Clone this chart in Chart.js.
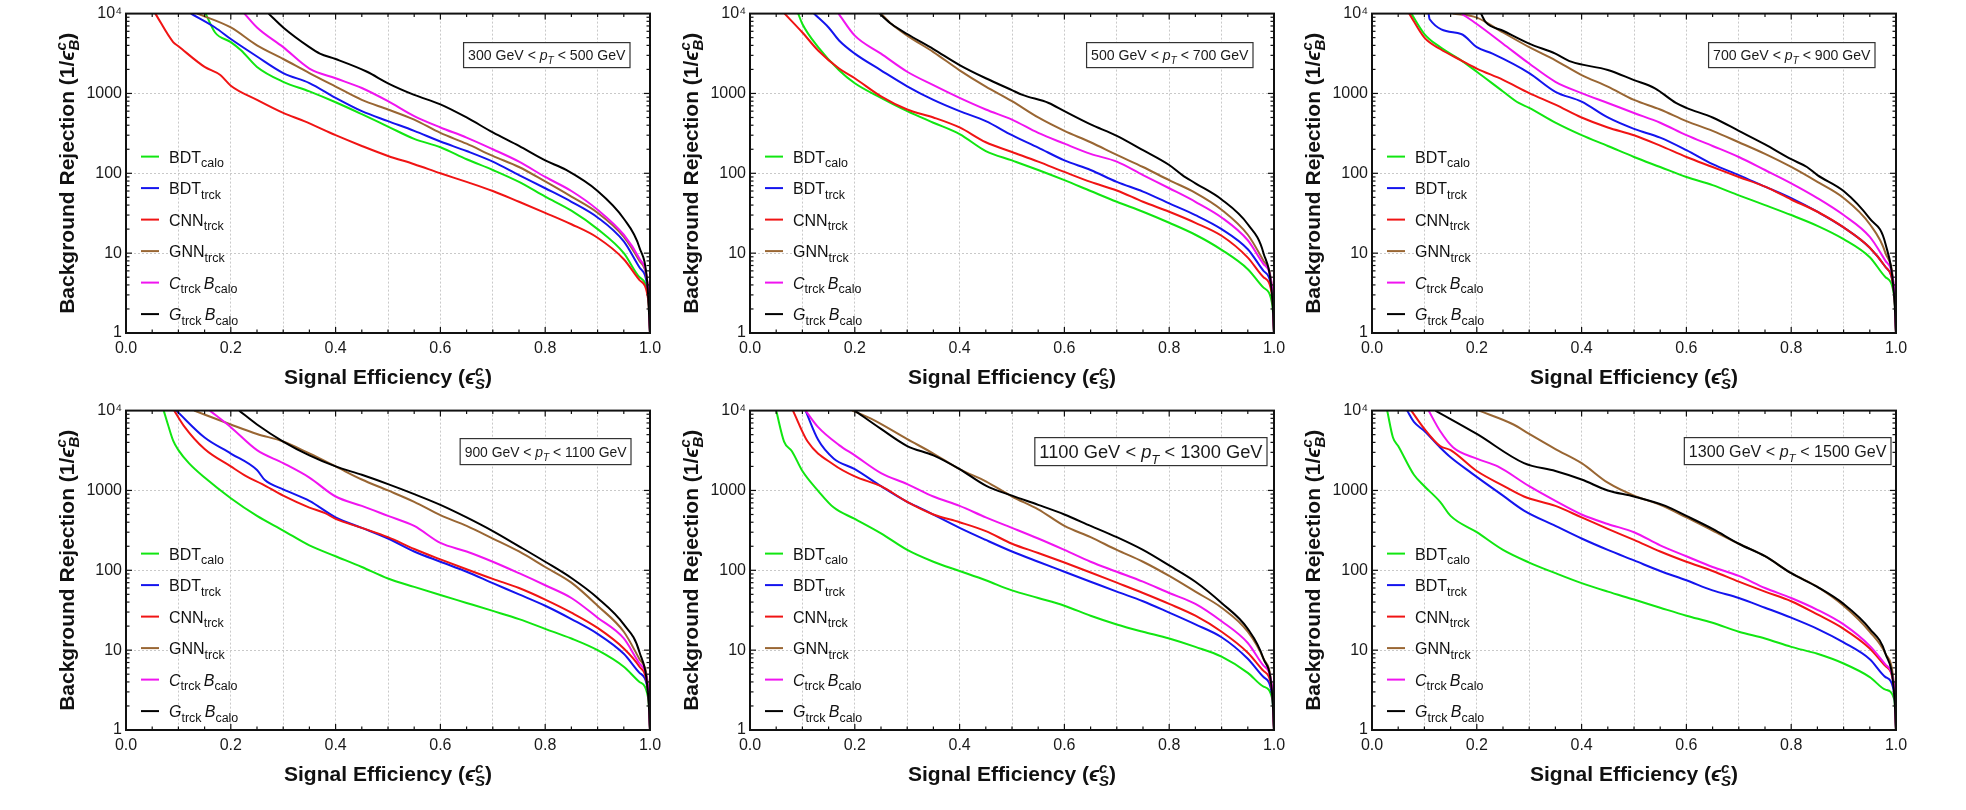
<!DOCTYPE html>
<html>
<head>
<meta charset="utf-8">
<script src="https://cdn.jsdelivr.net/npm/chart.js@4.4.1/dist/chart.umd.min.js"></script>
<style>
  html, body { margin: 0; padding: 0; background: #fff; }
  body { width: 1966px; height: 810px; position: relative; overflow: hidden; }
  canvas { position: absolute; }
</style>
</head>
<body>
<script>
// ROC curves: signal efficiency vs background rejection, one panel per pT bin
const SERIES = ["BDT|calo", "BDT|trck", "CNN|trck", "GNN|trck", "/C|trck /B|calo", "/G|trck /B|calo"];
const COLORS = ["#11e611", "#1414ee", "#f01414", "#996633", "#f014f0", "#000000"];
const PT_BINS = [[300, 500], [500, 700], [700, 900], [900, 1100], [1100, 1300], [1300, 1500]];
const Y_DECADES = [1, 10, 100, 1000, 10000];

// 300 < pT < 500
const P1_BDT_CALO = [[0.152,10000],[0.17,5800],[0.2,4400],[0.22,3450],[0.25,2150],[0.3,1400],[0.35,1060],[0.4,775],[0.45,550],[0.5,385],[0.55,270],[0.6,212],[0.65,150],[0.7,110],[0.75,78],[0.8,51],[0.85,34],[0.9,20],[0.95,10],[0.98,5],[0.997,2.8],[1,1]];
const P1_BDT_TRCK = [[0.124,10000],[0.17,6700],[0.2,4800],[0.25,2900],[0.3,1800],[0.35,1350],[0.4,880],[0.45,600],[0.5,450],[0.55,340],[0.6,250],[0.65,190],[0.7,140],[0.75,95],[0.8,65],[0.85,44],[0.9,28],[0.95,14],[0.98,6.6],[0.997,3],[1,1]];
const P1_CNN_TRCK = [[0.056,10000],[0.09,4400],[0.1,3900],[0.15,2150],[0.18,1700],[0.2,1250],[0.25,830],[0.3,570],[0.34,450],[0.4,300],[0.45,220],[0.5,165],[0.55,130],[0.6,100],[0.65,78],[0.7,60],[0.75,44],[0.8,32],[0.85,23],[0.9,15.6],[0.95,8.4],[0.98,4.6],[0.997,2.5],[1,1]];
const P1_GNN_TRCK = [[0.136,10000],[0.2,6700],[0.25,4000],[0.3,2700],[0.35,1800],[0.4,1220],[0.45,830],[0.5,630],[0.55,470],[0.6,320],[0.65,235],[0.7,165],[0.75,120],[0.8,79],[0.85,51],[0.9,32],[0.95,16],[0.98,8],[0.997,3.3],[1,1]];
const P1_C_B = [[0.226,10000],[0.25,6700],[0.3,3800],[0.35,2050],[0.4,1550],[0.45,1170],[0.5,800],[0.55,520],[0.6,375],[0.65,280],[0.7,200],[0.75,140],[0.8,90],[0.85,60],[0.9,35],[0.95,17],[0.98,8.5],[0.997,3.3],[1,1]];
const P1_G_B = [[0.272,10000],[0.3,6700],[0.35,3800],[0.37,3160],[0.4,2700],[0.46,1870],[0.5,1340],[0.55,960],[0.6,730],[0.65,500],[0.7,325],[0.75,220],[0.8,145],[0.84,110],[0.9,60],[0.95,27],[0.98,11.7],[0.995,4.1],[1,1]];

// 500 < pT < 700
const P2_BDT_CALO = [[0.092,10000],[0.1,7400],[0.13,3800],[0.17,1950],[0.2,1340],[0.25,880],[0.3,600],[0.35,430],[0.4,310],[0.45,190],[0.5,145],[0.55,110],[0.6,82],[0.65,60],[0.7,44],[0.75,33],[0.8,24],[0.85,17],[0.9,11],[0.95,6.3],[0.98,3.7],[0.997,2.2],[1,1]];
const P2_BDT_TRCK = [[0.122,10000],[0.15,6700],[0.17,4600],[0.2,3150],[0.25,1950],[0.3,1230],[0.35,830],[0.4,600],[0.45,450],[0.5,300],[0.55,210],[0.6,145],[0.65,110],[0.7,78],[0.75,59],[0.8,42],[0.85,30],[0.9,20],[0.95,11.2],[0.98,6],[0.997,3],[1,1]];
const P2_CNN_TRCK = [[0.066,10000],[0.1,5800],[0.13,3450],[0.17,2050],[0.2,1550],[0.25,920],[0.3,630],[0.35,500],[0.4,375],[0.45,245],[0.5,185],[0.55,140],[0.6,104],[0.65,78],[0.7,61],[0.75,44],[0.8,33],[0.85,24],[0.9,16.5],[0.95,8.8],[0.98,5],[0.997,2.8],[1,1]];
const P2_GNN_TRCK = [[0.25,10000],[0.27,7400],[0.3,5300],[0.35,3300],[0.4,1950],[0.45,1220],[0.5,800],[0.55,500],[0.6,340],[0.65,245],[0.7,170],[0.75,120],[0.8,82],[0.85,57],[0.9,35],[0.95,17],[0.98,8],[0.997,3.3],[1,1]];
const P2_C_B = [[0.169,10000],[0.2,5300],[0.25,3150],[0.3,1870],[0.35,1270],[0.4,880],[0.45,630],[0.5,470],[0.55,320],[0.6,235],[0.65,175],[0.7,140],[0.75,95],[0.8,65],[0.85,44],[0.9,28],[0.95,14.5],[0.98,7.3],[0.997,3.4],[1,1]];
const P2_G_B = [[0.247,10000],[0.27,7400],[0.3,5550],[0.35,3600],[0.4,2270],[0.45,1550],[0.5,1100],[0.52,960],[0.57,760],[0.6,600],[0.65,410],[0.7,295],[0.75,195],[0.8,127],[0.825,95],[0.85,75],[0.9,47],[0.95,23],[0.98,10],[0.997,2.6],[1,1]];

// 700 < pT < 900
const P3_BDT_CALO = [[0.075,10000],[0.1,5550],[0.13,3800],[0.17,2600],[0.2,1870],[0.25,1060],[0.28,760],[0.3,660],[0.35,430],[0.4,300],[0.45,220],[0.5,160],[0.55,120],[0.6,90],[0.65,71],[0.7,53],[0.75,40],[0.8,30],[0.85,22],[0.9,15],[0.95,8.9],[0.98,5],[0.997,2.8],[1,1]];
const P3_BDT_TRCK = [[0.108,10000],[0.11,8500],[0.17,5550],[0.2,3800],[0.23,3150],[0.3,1800],[0.35,1050],[0.4,790],[0.45,500],[0.5,360],[0.55,280],[0.6,195],[0.65,130],[0.7,95],[0.75,68],[0.8,49],[0.85,33],[0.9,21],[0.95,11.7],[0.98,6.7],[0.997,3],[1,1]];
const P3_CNN_TRCK = [[0.071,10000],[0.1,5000],[0.13,3600],[0.17,2600],[0.2,2050],[0.25,1480],[0.3,1010],[0.35,725],[0.4,500],[0.45,375],[0.5,300],[0.55,222],[0.6,160],[0.65,120],[0.7,90],[0.75,68],[0.8,47],[0.85,33],[0.9,21],[0.95,11.7],[0.98,6.7],[0.997,3],[1,1]];
const P3_GNN_TRCK = [[0.154,10000],[0.2,8900],[0.25,5800],[0.3,3800],[0.35,2600],[0.4,1700],[0.45,1220],[0.5,830],[0.55,630],[0.6,450],[0.65,340],[0.7,245],[0.75,175],[0.8,120],[0.85,78],[0.9,49],[0.95,23],[0.98,10],[0.997,3],[1,1]];
const P3_C_B = [[0.171,10000],[0.2,7400],[0.25,4200],[0.3,2370],[0.35,1400],[0.4,1010],[0.45,760],[0.5,570],[0.55,430],[0.6,300],[0.65,220],[0.7,160],[0.75,110],[0.8,75],[0.85,49],[0.9,30],[0.95,16],[0.98,8],[0.997,3.4],[1,1]];
const P3_G_B = [[0.208,10000],[0.217,7800],[0.25,6100],[0.3,4200],[0.35,3150],[0.38,2500],[0.45,1970],[0.5,1470],[0.54,1160],[0.58,760],[0.6,660],[0.65,500],[0.7,340],[0.75,230],[0.8,150],[0.83,120],[0.85,95],[0.9,60],[0.95,27],[0.98,13],[0.997,2.6],[1,1]];

// 900 < pT < 1100
const P4_BDT_CALO = [[0.072,10000],[0.08,6700],[0.09,4200],[0.1,3200],[0.12,2200],[0.15,1450],[0.2,800],[0.25,480],[0.3,315],[0.35,205],[0.4,150],[0.45,110],[0.5,79],[0.55,62],[0.6,49],[0.65,39],[0.7,31],[0.75,24.5],[0.8,18.5],[0.85,14],[0.9,10],[0.95,6.2],[0.98,4],[0.997,2.4],[1,1]];
const P4_BDT_TRCK = [[0.096,10000],[0.15,4600],[0.2,2900],[0.25,1800],[0.265,1350],[0.3,1030],[0.35,740],[0.4,460],[0.45,340],[0.5,250],[0.55,172],[0.6,128],[0.65,96],[0.7,69],[0.75,50],[0.8,36],[0.85,24.5],[0.9,16],[0.95,9],[0.98,5.2],[0.997,2.8],[1,1]];
const P4_CNN_TRCK = [[0.092,10000],[0.11,6500],[0.15,3300],[0.2,2000],[0.23,1500],[0.26,1200],[0.3,860],[0.35,610],[0.38,520],[0.4,440],[0.45,340],[0.5,260],[0.55,185],[0.6,137],[0.65,103],[0.7,78],[0.75,60],[0.8,43],[0.85,29.5],[0.9,19],[0.95,10.5],[0.98,6.2],[0.997,2.8],[1,1]];
const P4_GNN_TRCK = [[0.13,10000],[0.2,6700],[0.25,5100],[0.3,4100],[0.35,2900],[0.4,2000],[0.45,1370],[0.5,1000],[0.55,720],[0.6,490],[0.65,360],[0.7,250],[0.75,172],[0.8,110],[0.85,70],[0.9,36],[0.95,17],[0.98,7.7],[0.997,3.2],[1,1]];
const P4_C_B = [[0.16,10000],[0.2,6200],[0.25,3200],[0.3,2200],[0.35,1450],[0.4,840],[0.45,640],[0.5,480],[0.55,360],[0.6,220],[0.65,172],[0.7,128],[0.75,92],[0.8,65],[0.85,45],[0.9,25.5],[0.95,14],[0.98,6.8],[0.997,3.2],[1,1]];
const P4_G_B = [[0.216,10000],[0.25,6700],[0.3,4100],[0.35,2750],[0.4,2000],[0.45,1570],[0.5,1200],[0.55,900],[0.6,660],[0.65,460],[0.7,310],[0.75,200],[0.8,128],[0.85,80],[0.9,45],[0.95,21],[0.98,9.4],[0.997,2.5],[1,1]];

// 1100 < pT < 1300
const P5_BDT_CALO = [[0.05,10000],[0.065,4100],[0.08,3100],[0.1,1750],[0.13,990],[0.16,610],[0.2,440],[0.25,290],[0.3,180],[0.35,128],[0.4,98],[0.45,75],[0.5,56],[0.55,45],[0.6,36],[0.65,27],[0.7,21],[0.75,17],[0.8,14],[0.85,11],[0.9,8.3],[0.95,5.2],[0.98,3.5],[0.997,2.4],[1,1]];
const P5_BDT_TRCK = [[0.106,10000],[0.13,4300],[0.16,2500],[0.2,1850],[0.25,1130],[0.3,720],[0.33,580],[0.4,340],[0.45,240],[0.5,172],[0.55,128],[0.6,96],[0.65,72],[0.7,54],[0.75,41],[0.8,29.5],[0.85,21],[0.9,14.5],[0.95,7.8],[0.98,4.6],[0.997,2.6],[1,1]];
const P5_CNN_TRCK = [[0.082,10000],[0.11,4100],[0.16,2100],[0.2,1500],[0.25,1130],[0.3,720],[0.35,500],[0.4,400],[0.45,310],[0.5,215],[0.55,165],[0.6,125],[0.65,94],[0.7,70],[0.75,52],[0.8,38],[0.85,27],[0.9,17],[0.95,9.3],[0.98,5.5],[0.997,2.9],[1,1]];
const P5_GNN_TRCK = [[0.195,10000],[0.23,8000],[0.3,4400],[0.35,2900],[0.4,1850],[0.45,1300],[0.5,840],[0.55,580],[0.6,360],[0.65,260],[0.7,180],[0.75,128],[0.8,85],[0.85,54],[0.9,34],[0.95,17],[0.98,7.8],[0.997,2.9],[1,1]];
const P5_C_B = [[0.106,10000],[0.13,6200],[0.17,3700],[0.2,2750],[0.25,1650],[0.3,1200],[0.35,840],[0.4,640],[0.45,460],[0.5,340],[0.55,250],[0.6,180],[0.65,128],[0.7,96],[0.75,72],[0.8,52],[0.85,38],[0.9,23],[0.95,12.3],[0.98,6.4],[0.997,3.2],[1,1]];
const P5_G_B = [[0.2,10000],[0.25,5900],[0.3,3600],[0.35,2750],[0.4,1850],[0.45,1150],[0.5,860],[0.55,660],[0.6,500],[0.65,360],[0.7,260],[0.75,180],[0.8,115],[0.85,72],[0.9,39],[0.95,18.5],[0.98,7.8],[0.997,2.6],[1,1]];

// 1300 < pT < 1500
const P6_BDT_CALO = [[0.029,10000],[0.04,4600],[0.05,3600],[0.08,1570],[0.1,1130],[0.13,720],[0.15,480],[0.2,300],[0.25,180],[0.3,125],[0.35,92],[0.4,69],[0.45,54],[0.5,43],[0.55,34],[0.6,27],[0.65,22],[0.7,17],[0.75,14],[0.8,11],[0.85,9],[0.9,6.8],[0.95,4.6],[0.98,3.2],[0.997,2.4],[1,1]];
const P6_BDT_TRCK = [[0.067,10000],[0.08,7200],[0.1,5550],[0.13,3450],[0.15,2600],[0.19,1650],[0.25,860],[0.29,560],[0.35,360],[0.4,250],[0.45,180],[0.5,133],[0.55,98],[0.6,75],[0.65,56],[0.7,45],[0.75,34],[0.8,25.5],[0.85,18.5],[0.9,12.5],[0.95,7.7],[0.98,4.6],[0.997,2.8],[1,1]];
const P6_CNN_TRCK = [[0.075,10000],[0.1,5900],[0.13,3600],[0.15,3200],[0.2,1750],[0.25,1150],[0.29,840],[0.35,640],[0.4,460],[0.45,330],[0.5,240],[0.55,172],[0.6,128],[0.65,98],[0.7,72],[0.75,54],[0.8,41],[0.85,28],[0.9,18.5],[0.95,10.5],[0.98,6.3],[0.997,3.2],[1,1]];
const P6_GNN_TRCK = [[0.204,10000],[0.27,6700],[0.3,5100],[0.35,3300],[0.4,2200],[0.45,1250],[0.5,860],[0.55,660],[0.6,460],[0.65,315],[0.7,215],[0.75,150],[0.8,92],[0.85,62],[0.9,36],[0.95,17],[0.98,9],[0.997,3.2],[1,1]];
const P6_C_B = [[0.108,10000],[0.13,5550],[0.155,3450],[0.2,2500],[0.24,2000],[0.3,1130],[0.35,740],[0.4,500],[0.45,380],[0.5,300],[0.55,205],[0.6,150],[0.65,110],[0.7,85],[0.75,60],[0.8,45],[0.85,32],[0.9,21],[0.95,11.3],[0.98,6.6],[0.997,3.2],[1,1]];
const P6_G_B = [[0.121,10000],[0.2,5100],[0.29,2200],[0.35,1750],[0.4,1370],[0.45,1000],[0.5,840],[0.56,640],[0.6,480],[0.65,330],[0.7,215],[0.75,150],[0.8,92],[0.85,62],[0.9,38],[0.95,18.5],[0.98,9],[0.997,2.6],[1,1]];

const PANELS = [
  [P1_BDT_CALO, P1_BDT_TRCK, P1_CNN_TRCK, P1_GNN_TRCK, P1_C_B, P1_G_B],
  [P2_BDT_CALO, P2_BDT_TRCK, P2_CNN_TRCK, P2_GNN_TRCK, P2_C_B, P2_G_B],
  [P3_BDT_CALO, P3_BDT_TRCK, P3_CNN_TRCK, P3_GNN_TRCK, P3_C_B, P3_G_B],
  [P4_BDT_CALO, P4_BDT_TRCK, P4_CNN_TRCK, P4_GNN_TRCK, P4_C_B, P4_G_B],
  [P5_BDT_CALO, P5_BDT_TRCK, P5_CNN_TRCK, P5_GNN_TRCK, P5_C_B, P5_G_B],
  [P6_BDT_CALO, P6_BDT_TRCK, P6_CNN_TRCK, P6_GNN_TRCK, P6_C_B, P6_G_B],
];

// layout of the canvases and the pT boxes
const CANVAS_LEFT = [0, 624, 1246];
const CANVAS_TOP = [0, 397];
const BOX_STYLE = [
  { fs: 14.1, inset: 20, top: 29, h: 25 },
  { fs: 14.1, inset: 21, top: 29, h: 25 },
  { fs: 14.1, inset: 21, top: 29, h: 25 },
  { fs: 13.9, inset: 19, top: 28, h: 26 },
  { fs: 18.3, inset: 7, top: 27, h: 28 },
  { fs: 16.1, inset: 5, top: 27, h: 27 },
];

const FONT = '"Liberation Sans", Arial, sans-serif';
const fontOf = (size, style) => `${style || ""} ${size}px ${FONT}`;
const isDecade = (v) => Math.abs(Math.log10(v) - Math.round(Math.log10(v))) < 1e-6;

// text with sub/superscripts, drawn piece by piece
function drawParts(ctx, parts, x, y, align) {
  const widths = parts.map((p) => {
    ctx.font = fontOf(p.s, p.f);
    if (p.sup !== undefined) {
      return Math.max(ctx.measureText(p.sup).width, ctx.measureText(p.sub).width);
    }
    return ctx.measureText(p.t).width;
  });
  const total = widths.reduce((a, b) => a + b, 0);
  let cx = align === "center" ? x - total / 2 : align === "right" ? x - total : x;
  ctx.textAlign = "left";
  ctx.textBaseline = "alphabetic";
  parts.forEach((p, i) => {
    ctx.font = fontOf(p.s, p.f);
    if (p.sup !== undefined) {
      ctx.fillText(p.sup, cx, y + p.upDy);
      ctx.fillText(p.sub, cx, y + p.dnDy);
    } else {
      ctx.fillText(p.t, cx, y + (p.dy || 0));
    }
    cx += widths[i];
  });
  return total;
}

function measureParts(ctx, parts) {
  return parts.reduce((w, p) => {
    ctx.font = fontOf(p.s, p.f);
    return w + ctx.measureText(p.t).width;
  }, 0);
}

// "/C|trck /B|calo" -> italic C, subscript trck, ...
function labelParts(markup, size) {
  const parts = [];
  markup.split(" ").forEach((word, k) => {
    if (k > 0) parts.push({ t: "\u2009", s: size });
    const italic = word.startsWith("/");
    const [main, sub] = word.replace("/", "").split("|");
    parts.push({ t: main, s: size, f: italic ? "italic" : "" });
    if (sub) parts.push({ t: sub, s: size * 0.78, dy: size * 0.28 });
  });
  return parts;
}

const Y_TITLE = [
  { t: "Background Rejection (1/", s: 21, f: "bold" },
  { t: "\u03f5", s: 21, f: "bold italic" },
  { sup: "c", sub: "B", s: 15, f: "bold italic", upDy: -8, dnDy: 5 },
  { t: ")", s: 21, f: "bold" },
];
const X_TITLE = [
  { t: "Signal Efficiency (", s: 21, f: "bold" },
  { t: "\u03f5", s: 21, f: "bold italic" },
  { sup: "c", sub: "S", s: 15, f: "bold italic", upDy: -8, dnDy: 5 },
  { t: ")", s: 21, f: "bold" },
];

const decorPlugin = {
  id: "decor",
  afterDraw(chart, args, opts) {
    const { ctx, chartArea: a, scales } = chart;
    const x = scales.x, y = scales.y;
    ctx.save();
    ctx.strokeStyle = "#111";
    ctx.lineWidth = 1.2;
    const seg = (x1, y1, x2, y2) => {
      ctx.beginPath(); ctx.moveTo(x1, y1); ctx.lineTo(x2, y2); ctx.stroke();
    };
    // inward frame ticks
    for (let k = 1; k < 20; k++) {
      const px = x.getPixelForValue(k * 0.05);
      const len = k % 4 === 0 ? 6 : 3.5;
      seg(px, a.bottom, px, a.bottom - len);
      seg(px, a.top, px, a.top + len);
    }
    Y_DECADES.slice(0, -1).forEach((d) => {
      for (let m = 1; m < 10; m++) {
        if (d * m <= 1) continue;
        const py = y.getPixelForValue(d * m);
        const len = m === 1 ? 6 : 3.5;
        seg(a.left, py, a.left + len, py);
        seg(a.right, py, a.right - len, py);
      }
    });
    ctx.lineWidth = 2;
    ctx.strokeRect(a.left, a.top, a.right - a.left, a.bottom - a.top);

    // legend
    ctx.fillStyle = "#111";
    SERIES.forEach((name, i) => {
      const ry = a.top + 143 + i * 31.5;
      ctx.strokeStyle = COLORS[i];
      ctx.lineWidth = 2;
      seg(a.left + 15, ry, a.left + 33, ry);
      drawParts(ctx, labelParts(name, 16), a.left + 43, ry + 6, "left");
    });

    // pT bin box
    const b = opts.box, fs = b.fs;
    const pt = [
      { t: opts.bin[0] + " GeV < ", s: fs },
      { t: "p", s: fs, f: "italic" },
      { t: "T", s: fs * 0.72, f: "italic", dy: fs * 0.3 },
      { t: " < " + opts.bin[1] + " GeV", s: fs },
    ];
    const tw = measureParts(ctx, pt);
    const bw = tw + 9;
    const bx = a.right - b.inset - bw, by = a.top + b.top;
    ctx.fillStyle = "#fff";
    ctx.fillRect(bx, by, bw, b.h);
    ctx.strokeStyle = "#333";
    ctx.lineWidth = 1.2;
    ctx.strokeRect(bx, by, bw, b.h);
    ctx.fillStyle = "#1a1a1a";
    drawParts(ctx, pt, bx + 4.5, by + b.h / 2 + fs * 0.36, "left");

    // axis titles
    ctx.fillStyle = "#111";
    drawParts(ctx, X_TITLE, (a.left + a.right) / 2, a.bottom + 51, "center");
    ctx.save();
    ctx.translate(a.left - 60, (a.top + a.bottom) / 2);
    ctx.rotate(-Math.PI / 2);
    drawParts(ctx, Y_TITLE, 0, 7.5, "center");
    ctx.restore();
    ctx.restore();
  },
};

PANELS.forEach((curves, p) => {
  const col = p % 3, row = Math.floor(p / 3);
  const cv = document.createElement("canvas");
  cv.width = 670;
  cv.height = 400;
  cv.style.left = CANVAS_LEFT[col] + "px";
  cv.style.top = CANVAS_TOP[row] + "px";
  document.body.appendChild(cv);

  new Chart(cv, {
    type: "line",
    data: {
      datasets: curves.map((pts, i) => ({
        label: SERIES[i],
        data: pts.map(([x, y]) => ({ x, y })),
        borderColor: COLORS[i],
        borderWidth: 2,
        pointRadius: 0,
        cubicInterpolationMode: "monotone",
        order: SERIES.length - 1 - i,
      })),
    },
    options: {
      responsive: false,
      animation: false,
      events: [],
      layout: { padding: { top: 10, right: 20, left: 0, bottom: 0 } },
      plugins: {
        legend: { display: false },
        tooltip: { enabled: false },
        decor: { bin: PT_BINS[p], box: BOX_STYLE[p] },
      },
      scales: {
        x: {
          type: "linear",
          min: 0,
          max: 1,
          afterFit: (s) => { s.height = 67; },
          border: { display: false, dash: [2, 2] },
          grid: {
            drawTicks: false,
            lineWidth: 1,
            color: (c) => (c.tick && c.tick.value > 0.01 && c.tick.value < 0.99 ? "#c9c9c9" : "transparent"),
          },
          ticks: {
            stepSize: 0.1,
            padding: 6,
            autoSkip: false,
            maxRotation: 0,
            color: "#1a1a1a",
            font: { family: FONT, size: 16 },
            callback: (v) => (Math.round(v * 10) % 2 === 0 ? v.toFixed(1) : ""),
          },
        },
        y: {
          type: "logarithmic",
          min: 1,
          max: 10000,
          afterFit: (s) => { s.width = 126; },
          border: { display: false, dash: [2, 2] },
          grid: {
            drawTicks: false,
            lineWidth: 1,
            color: (c) => (c.tick && isDecade(c.tick.value) && c.tick.value > 1.5 && c.tick.value < 9000 ? "#c9c9c9" : "transparent"),
          },
          ticks: {
            padding: 4,
            autoSkip: false,
            color: "#1a1a1a",
            font: { family: FONT, size: 16 },
            callback: (v) => {
              if (!isDecade(v)) return "";
              const r = Math.round(v);
              return r === 10000 ? "10\u2074" : String(r);
            },
          },
        },
      },
    },
    plugins: [decorPlugin],
  });
});
</script>
</body>
</html>
